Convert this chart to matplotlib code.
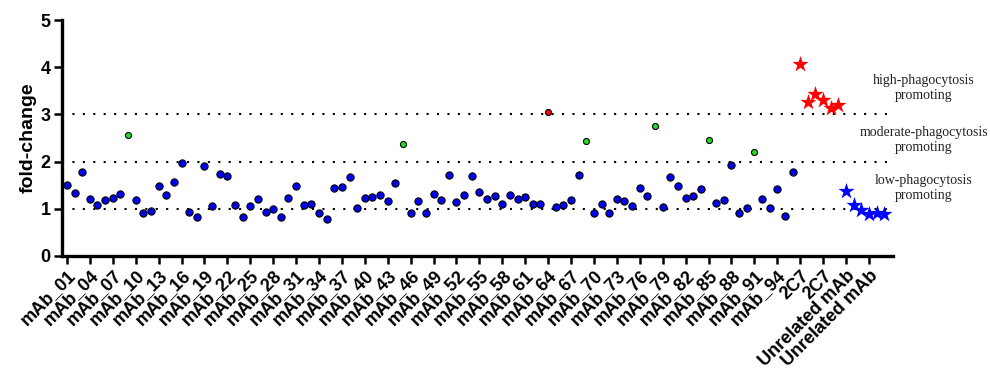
import matplotlib.pyplot as plt
import numpy as np

# fold-change per antibody, mAb_01 .. mAb_96
mab_values = [
    1.50, 1.33, 1.77, 1.21, 1.08, 1.19, 1.23, 1.32, 2.57, 1.18,
    0.92, 0.95, 1.49, 1.29, 1.57, 1.97, 0.94, 0.83, 1.90, 1.05,
    1.74, 1.70, 1.08, 0.82, 1.06, 1.21, 0.94, 0.99, 0.82, 1.22,
    1.48, 1.08, 1.11, 0.90, 0.79, 1.45, 1.47, 1.67, 1.01, 1.22,
    1.25, 1.30, 1.16, 1.55, 2.38, 0.91, 1.16, 0.90, 1.31, 1.19,
    1.71, 1.14, 1.30, 1.70, 1.35, 1.20, 1.28, 1.10, 1.30, 1.20,
    1.25, 1.10, 1.10, 3.06, 1.04, 1.08, 1.18, 1.72, 2.43, 0.91,
    1.11, 0.92, 1.21, 1.16, 1.05, 1.43, 1.28, 2.76, 1.03, 1.67,
    1.48, 1.23, 1.27, 1.41, 2.45, 1.12, 1.18, 1.93, 0.91, 1.01,
    2.21, 1.21, 1.01, 1.42, 0.84, 1.77,
]
c2c7_values = [4.06, 3.27, 3.43, 3.30, 3.14, 3.21]
unrelated_values = [1.38, 1.07, 0.98, 0.89, 0.92, 0.89]

thresholds = [1, 2, 3]
zone_labels = ["low-phagocytosis\npromoting",
               "moderate-phagocytosis\npromoting",
               "high-phagocytosis\npromoting"]

n_mab = len(mab_values)
labels = [f"mAb_{i + 1:02d}" for i in range(n_mab)]
labels += ["2C7"] * len(c2c7_values) + ["Unrelated mAb"] * len(unrelated_values)

x_mab = np.arange(n_mab)
x_2c7 = np.arange(n_mab, n_mab + len(c2c7_values))
x_unr = np.arange(x_2c7[-1] + 1, x_2c7[-1] + 1 + len(unrelated_values))

fig = plt.figure(figsize=(9.9, 3.72), dpi=100)
ax = fig.add_axes([0.0626, 0.312, 0.839, 0.634])

# dotted threshold lines
for t in thresholds:
    ax.plot([-0.65, 108.1], [t, t], color="black", linestyle=(0, (1, 4)),
            linewidth=1.5, zorder=1)

mab_values = np.array(mab_values)
blue = mab_values < 2
green = (mab_values >= 2) & (mab_values < 3)
red = mab_values >= 3
ax.scatter(x_mab[blue], mab_values[blue], s=27, color="#0000ee",
           edgecolors="black", linewidths=0.8, zorder=3)
ax.scatter(x_mab[green], mab_values[green], s=19, color="#22dd22",
           edgecolors="black", linewidths=0.8, zorder=3)
ax.scatter(x_mab[red], mab_values[red], s=19, color="#ff0000",
           edgecolors="black", linewidths=0.8, zorder=3)
ax.scatter(x_2c7, c2c7_values, marker="*", s=150, color="#ff0000",
           linewidths=0, zorder=3)
ax.scatter(x_unr, unrelated_values, marker="*", s=150, color="#0000ff",
           linewidths=0, zorder=3)

# zone annotations on the right
for y, txt in zip([1.45, 2.45, 3.56], zone_labels):
    ax.text(112.2, y, txt, ha="center", va="center", fontsize=10,
            family="Liberation Serif", color="#222222", clip_on=False,
            linespacing=1.2)

ax.set_xlim(-0.65, 108.1)
ax.set_ylim(0, 5)
ax.set_yticks([0, 1, 2, 3, 4, 5])
ticks = np.arange(0, len(labels), 3)
ax.set_xticks(ticks)
ax.set_xticklabels([labels[i] for i in ticks], rotation=45, ha="right",
                   va="top", rotation_mode="anchor", fontsize=13,
                   fontweight="bold", family="Liberation Sans")
for lab in ax.get_yticklabels():
    lab.set_fontweight("bold")
    lab.set_fontsize(13)
    lab.set_family("Liberation Sans")

ax.set_ylabel("fold-change", fontsize=14, fontweight="bold",
              family="Liberation Sans", labelpad=3)

for side in ["top", "right"]:
    ax.spines[side].set_visible(False)
for side in ["left", "bottom"]:
    ax.spines[side].set_linewidth(2.4)
ax.tick_params(axis="both", width=1.8, length=6, pad=2)

fig.savefig("out.png", dpi=100)
